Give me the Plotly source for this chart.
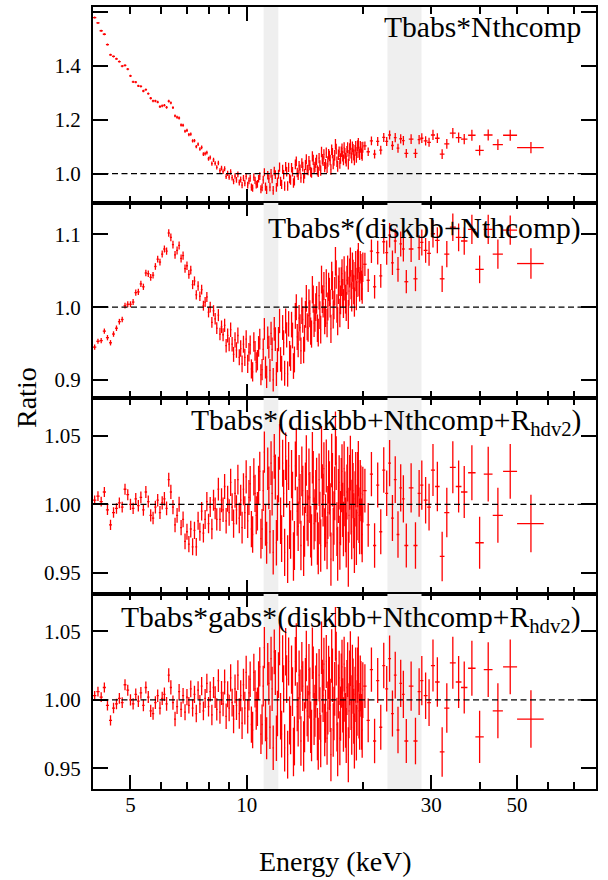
import math
import plotly.graph_objects as go

# ---------------- data ----------------
ENERGY_A = [4.04, 4.12, 4.20, 4.28, 4.36, 4.44, 4.52, 4.60, 4.68, 4.76, 4.84, 4.92,
            5.00, 5.08, 5.16, 5.24, 5.32, 5.40, 5.48, 5.56, 5.64, 5.72, 5.80, 5.88, 5.96,
            6.04, 6.12, 6.20, 6.28, 6.36, 6.44, 6.52, 6.60, 6.68, 6.76, 6.84, 6.92,
            7.00, 7.08, 7.16, 7.24, 7.32, 7.40, 7.48, 7.56, 7.64, 7.72, 7.80, 7.88, 7.96,
            8.04, 8.12, 8.20, 8.28, 8.36, 8.44, 8.52, 8.60, 8.68, 8.76, 8.84, 8.92,
            9.00, 9.08, 9.16, 9.24, 9.32, 9.40, 9.48, 9.56, 9.64, 9.72, 9.80, 9.88, 9.96]
ENERGY_B = [10.05, 10.20, 10.35, 10.50, 10.65, 10.80, 10.95, 11.10, 11.25, 11.40, 11.55, 11.70, 11.85,
            12.00, 12.15, 12.30, 12.45, 12.60, 12.75, 12.90, 13.05, 13.20, 13.35, 13.50, 13.65, 13.80,
            13.95, 14.10, 14.25, 14.40, 14.55, 14.70, 14.85,
            15.00, 15.15, 15.30, 15.45, 15.60, 15.75, 15.90, 16.05, 16.20, 16.35, 16.50, 16.65, 16.80,
            16.95, 17.10, 17.25, 17.40, 17.55, 17.70, 17.85, 18.00, 18.15, 18.30, 18.45, 18.60, 18.75,
            18.90, 19.05, 19.20, 19.35, 19.50, 19.65, 19.80, 19.95]
ENERGY_B2 = [10.125, 10.275, 10.425, 10.575, 10.725, 10.875, 11.025, 11.175, 11.325, 11.475, 11.625, 11.775, 11.925,
             12.075, 12.225, 12.375, 12.525, 12.675, 12.825, 12.975, 13.125, 13.275, 13.425, 13.575, 13.725,
             13.875, 14.025, 14.175, 14.325, 14.475, 14.625, 14.775, 14.925,
             15.075, 15.225, 15.375, 15.525, 15.675, 15.825, 15.975, 16.125, 16.275, 16.425, 16.575, 16.725,
             16.875, 17.025, 17.175, 17.325, 17.475, 17.625, 17.775, 17.925, 18.075, 18.225, 18.375, 18.525,
             18.675, 18.825, 18.975, 19.125, 19.275, 19.425, 19.575, 19.725, 19.875]
ENERGY_C = [20.2, 20.6, 21.0, 21.4, 21.8, 22.2, 22.6, 23.0, 23.4, 23.8, 24.2, 24.6, 25.0, 25.4]
ENERGY_D = [25.85, 26.6, 27.3, 27.9, 28.35, 29.0, 29.6, 30.3, 31.1, 32.0, 32.9, 34.1, 35.3, 36.5,
            38.2, 40.0, 42.1, 44.6, 48.0, 54.3]

XERR_A = [0.04, 0.04, 0.04, 0.04, 0.04, 0.04, 0.04, 0.04, 0.04, 0.04, 0.04, 0.04,
          0.04, 0.04, 0.04, 0.04, 0.04, 0.04, 0.04, 0.04, 0.04, 0.04, 0.04, 0.04, 0.04,
          0.04, 0.04, 0.04, 0.04, 0.04, 0.04, 0.04, 0.04, 0.04, 0.04, 0.04, 0.04,
          0.04, 0.04, 0.04, 0.04, 0.04, 0.04, 0.04, 0.04, 0.04, 0.04, 0.04, 0.04, 0.04,
          0.04, 0.04, 0.04, 0.04, 0.04, 0.04, 0.04, 0.04, 0.04, 0.04, 0.04, 0.04,
          0.04, 0.04, 0.04, 0.04, 0.04, 0.04, 0.04, 0.04, 0.04, 0.04, 0.04, 0.04, 0.04]
XERR_B = [0.0375, 0.0375, 0.0375, 0.0375, 0.0375, 0.0375, 0.0375, 0.0375, 0.0375, 0.0375, 0.0375, 0.0375, 0.0375,
          0.0375, 0.0375, 0.0375, 0.0375, 0.0375, 0.0375, 0.0375, 0.0375, 0.0375, 0.0375, 0.0375, 0.0375, 0.0375,
          0.0375, 0.0375, 0.0375, 0.0375, 0.0375, 0.0375, 0.0375,
          0.0375, 0.0375, 0.0375, 0.0375, 0.0375, 0.0375, 0.0375, 0.0375, 0.0375, 0.0375, 0.0375, 0.0375, 0.0375,
          0.0375, 0.0375, 0.0375, 0.0375, 0.0375, 0.0375, 0.0375, 0.0375, 0.0375, 0.0375, 0.0375, 0.0375, 0.0375,
          0.0375, 0.0375, 0.0375, 0.0375, 0.0375, 0.0375, 0.0375, 0.0375]
XERR_B2 = [0.0375, 0.0375, 0.0375, 0.0375, 0.0375, 0.0375, 0.0375, 0.0375, 0.0375, 0.0375, 0.0375, 0.0375, 0.0375,
           0.0375, 0.0375, 0.0375, 0.0375, 0.0375, 0.0375, 0.0375, 0.0375, 0.0375, 0.0375, 0.0375, 0.0375,
           0.0375, 0.0375, 0.0375, 0.0375, 0.0375, 0.0375, 0.0375, 0.0375,
           0.0375, 0.0375, 0.0375, 0.0375, 0.0375, 0.0375, 0.0375, 0.0375, 0.0375, 0.0375, 0.0375, 0.0375,
           0.0375, 0.0375, 0.0375, 0.0375, 0.0375, 0.0375, 0.0375, 0.0375, 0.0375, 0.0375, 0.0375, 0.0375,
           0.0375, 0.0375, 0.0375, 0.0375, 0.0375, 0.0375, 0.0375, 0.0375, 0.0375]
XERR_C = [0.2, 0.2, 0.2, 0.2, 0.2, 0.2, 0.2, 0.2, 0.2, 0.2, 0.2, 0.2, 0.2, 0.2]
XERR_D = [0.3, 0.37, 0.33, 0.25, 0.27, 0.33, 0.33, 0.37, 0.42, 0.45, 0.5, 0.6, 0.6, 0.7,
          0.85, 1.0, 1.1, 1.35, 2.0, 4.3]

YERR_A = [0.0035, 0.0035, 0.0036, 0.0036, 0.0037, 0.0037, 0.0038, 0.0038, 0.0039, 0.0039, 0.0040, 0.0040,
          0.0041, 0.0041, 0.0042, 0.0042, 0.0043, 0.0043, 0.0044, 0.0044, 0.0045, 0.0045, 0.0046, 0.0046, 0.0047,
          0.0048, 0.0049, 0.0050, 0.0051, 0.0052, 0.0052, 0.0053, 0.0054, 0.0055, 0.0056, 0.0057, 0.0058,
          0.0059, 0.0060, 0.0061, 0.0062, 0.0063, 0.0064, 0.0065, 0.0066, 0.0067, 0.0068, 0.0069, 0.0070, 0.0071,
          0.0073, 0.0075, 0.0077, 0.0079, 0.0081, 0.0083, 0.0085, 0.0087, 0.0089, 0.0091, 0.0093, 0.0095,
          0.0097, 0.0099, 0.0101, 0.0103, 0.0105, 0.0107, 0.0109, 0.0111, 0.0113, 0.0115, 0.0117, 0.0119, 0.0121]
YERR_B = [0.0125, 0.0130, 0.0133, 0.0136, 0.0140, 0.0143, 0.0146, 0.0150, 0.0153, 0.0156, 0.0160, 0.0162, 0.0164,
          0.0166, 0.0168, 0.0170, 0.0172, 0.0173, 0.0174, 0.0175, 0.0176, 0.0177, 0.0178, 0.0179, 0.0180, 0.0181,
          0.0182, 0.0183, 0.0184, 0.0185, 0.0186, 0.0187, 0.0188,
          0.0189, 0.0190, 0.0190, 0.0191, 0.0191, 0.0192, 0.0192, 0.0193, 0.0193, 0.0194, 0.0194, 0.0195, 0.0195,
          0.0196, 0.0196, 0.0197, 0.0197, 0.0198, 0.0198, 0.0199, 0.0199, 0.0200, 0.0200, 0.0200, 0.0200, 0.0201,
          0.0201, 0.0201, 0.0202, 0.0202, 0.0202, 0.0203, 0.0203, 0.0203]
YERR_B2 = [0.0128, 0.0132, 0.0135, 0.0138, 0.0142, 0.0145, 0.0148, 0.0152, 0.0155, 0.0158, 0.0161, 0.0163, 0.0165,
           0.0167, 0.0169, 0.0171, 0.0172, 0.0174, 0.0175, 0.0176, 0.0177, 0.0178, 0.0179, 0.0180, 0.0181,
           0.0182, 0.0183, 0.0184, 0.0185, 0.0186, 0.0187, 0.0188, 0.0189,
           0.0190, 0.0190, 0.0191, 0.0191, 0.0192, 0.0192, 0.0193, 0.0193, 0.0194, 0.0194, 0.0195, 0.0195,
           0.0196, 0.0196, 0.0197, 0.0197, 0.0198, 0.0198, 0.0199, 0.0199, 0.0200, 0.0200, 0.0200, 0.0200,
           0.0201, 0.0201, 0.0201, 0.0202, 0.0202, 0.0202, 0.0203, 0.0203, 0.0203]
YERR_C = [0.0160, 0.0160, 0.0162, 0.0162, 0.0164, 0.0164, 0.0166, 0.0166, 0.0168, 0.0168, 0.0170, 0.0170,
          0.0172, 0.0172]
YERR_D = [0.016, 0.018, 0.017, 0.017, 0.018, 0.017, 0.017, 0.019, 0.018, 0.018, 0.018, 0.019, 0.019, 0.019,
          0.020, 0.019, 0.020, 0.020, 0.020, 0.021]

# Panel 1: Tbabs*Nthcomp
RATIO1_A = [1.578, 1.558, 1.529, 1.516, 1.478, 1.440, 1.434, 1.425, 1.415, 1.398, 1.401, 1.387,
            1.362, 1.340, 1.339, 1.325, 1.323, 1.306, 1.311, 1.296, 1.279, 1.269, 1.269, 1.265, 1.248,
            1.251, 1.253, 1.245, 1.268, 1.262, 1.244, 1.214, 1.209, 1.206, 1.180, 1.179, 1.157,
            1.160, 1.144, 1.146, 1.121, 1.122, 1.100, 1.109, 1.091, 1.097, 1.072, 1.074, 1.078, 1.055,
            1.060, 1.037, 1.051, 1.038, 1.023, 1.039, 1.011, 1.020, 1.007, 1.018, 0.989, 1.001,
            0.987, 1.006, 0.985, 0.971, 0.991, 0.977, 0.997, 0.967, 0.978, 0.957, 0.983, 0.965, 0.990]
RATIO1_B = [0.957, 0.983, 0.946, 0.975, 0.962, 0.991, 0.949, 1.005, 0.940, 0.981, 1.001, 0.938, 0.996,
            0.969, 1.024, 0.960, 0.996, 1.026, 0.954, 0.982, 1.022, 0.965, 1.034, 1.004, 1.029, 0.984,
            1.026, 0.999, 1.053, 1.012, 1.031, 1.003, 1.051,
            1.025, 1.051, 1.006, 1.030, 1.080, 1.047, 1.024, 1.077, 1.045, 1.065, 1.015, 1.075, 1.049,
            1.109, 1.044, 1.070, 1.038, 1.081, 1.065, 1.096, 1.057, 1.082, 1.035, 1.092, 1.076, 1.099,
            1.069, 1.086, 1.060, 1.103, 1.079, 1.100, 1.074, 1.098]
RATIO1_B2 = [0.973, 0.950, 0.987, 0.959, 0.981, 0.942, 0.977, 0.952, 0.994, 0.950, 0.980, 1.009, 0.949,
             0.998, 0.971, 1.016, 0.954, 1.007, 1.023, 0.976, 1.007, 0.974, 1.045, 0.994, 1.016,
             1.039, 0.983, 1.032, 1.014, 1.047, 1.007, 1.064, 1.018,
             1.040, 1.012, 1.057, 1.011, 1.053, 1.071, 1.035, 1.022, 1.072, 1.050, 1.088, 1.036,
             1.068, 1.091, 1.027, 1.081, 1.056, 1.092, 1.051, 1.075, 1.046, 1.096, 1.067, 1.107,
             1.058, 1.090, 1.051, 1.101, 1.078, 1.112, 1.071, 1.097, 1.068]
RATIO1_C = [1.103, 1.081, 1.121, 1.072, 1.119, 1.087, 1.134, 1.119, 1.143, 1.104, 1.133, 1.094, 1.129, 1.122]
RATIO1_D = [1.075, 1.128, 1.075, 1.126, 1.131, 1.121, 1.116, 1.143, 1.131, 1.072, 1.110, 1.150, 1.133, 1.128,
            1.142, 1.086, 1.143, 1.107, 1.142, 1.096]

# Panel 2: Tbabs*(diskbb+Nthcomp)
RATIO2_A = [0.945, 0.953, 0.954, 0.967, 0.958, 0.951, 0.963, 0.971, 0.980, 0.983, 1.002, 1.004,
            1.004, 1.007, 1.020, 1.021, 1.032, 1.028, 1.047, 1.046, 1.041, 1.044, 1.056, 1.066, 1.062,
            1.073, 1.080, 1.077, 1.102, 1.096, 1.086, 1.072, 1.078, 1.085, 1.067, 1.071, 1.053,
            1.057, 1.045, 1.051, 1.031, 1.036, 1.017, 1.029, 1.015, 1.024, 1.002, 1.007, 1.014, 0.993,
            1.000, 0.979, 0.995, 0.984, 0.971, 0.989, 0.963, 0.973, 0.962, 0.975, 0.947, 0.961,
            0.949, 0.969, 0.949, 0.935, 0.955, 0.941, 0.961, 0.931, 0.943, 0.922, 0.949, 0.931, 0.956]
RATIO2_B = [0.922, 0.948, 0.911, 0.940, 0.927, 0.956, 0.914, 0.970, 0.904, 0.945, 0.964, 0.900, 0.956,
            0.927, 0.981, 0.916, 0.951, 0.981, 0.908, 0.936, 0.976, 0.919, 0.988, 0.959, 0.985, 0.940,
            0.983, 0.957, 1.012, 0.971, 0.991, 0.963, 1.011,
            0.985, 1.010, 0.965, 0.989, 1.038, 1.005, 0.982, 1.033, 1.001, 1.021, 0.970, 1.030, 1.003,
            1.063, 0.998, 1.024, 0.992, 1.035, 1.019, 1.050, 1.011, 1.037, 0.990, 1.047, 1.031, 1.055,
            1.024, 1.042, 1.016, 1.059, 1.035, 1.057, 1.030, 1.055]
RATIO2_B2 = [0.938, 0.915, 0.952, 0.924, 0.946, 0.907, 0.942, 0.917, 0.958, 0.913, 0.942, 0.970, 0.908,
             0.956, 0.928, 0.972, 0.909, 0.962, 0.977, 0.930, 0.961, 0.928, 1.000, 0.949, 0.972,
             0.995, 0.941, 0.990, 0.973, 1.006, 0.967, 1.024, 0.978,
             1.000, 0.971, 1.016, 0.969, 1.011, 1.029, 0.992, 0.978, 1.028, 1.005, 1.043, 0.990,
             1.022, 1.045, 0.981, 1.035, 1.010, 1.046, 1.005, 1.029, 1.001, 1.051, 1.022, 1.062,
             1.014, 1.045, 1.007, 1.057, 1.034, 1.068, 1.028, 1.053, 1.025]
RATIO2_C = [1.059, 1.037, 1.077, 1.028, 1.075, 1.043, 1.090, 1.075, 1.099, 1.061, 1.091, 1.052, 1.087, 1.080]
RATIO2_D = [1.035, 1.080, 1.039, 1.082, 1.089, 1.078, 1.074, 1.101, 1.092, 1.039, 1.073, 1.110, 1.096, 1.091,
            1.107, 1.052, 1.107, 1.073, 1.106, 1.060]

# Panel 3: Tbabs*(diskbb+Nthcomp+Rhdv2)
RATIO3_A = [1.003, 1.006, 1.002, 1.009, 0.996, 0.985, 0.994, 0.997, 1.001, 0.998, 1.011, 1.007,
            1.000, 0.997, 1.004, 0.999, 1.005, 0.996, 1.009, 1.002, 0.992, 0.990, 0.998, 1.003, 0.994,
            1.001, 1.004, 0.997, 1.018, 1.009, 0.998, 0.985, 0.992, 1.000, 0.983, 0.989, 0.973,
            0.980, 0.971, 0.982, 0.969, 0.981, 0.969, 0.988, 0.980, 0.995, 0.979, 0.989, 1.002, 0.986,
            0.998, 0.982, 1.003, 0.997, 0.989, 1.011, 0.989, 1.003, 0.996, 1.013, 0.988, 1.004,
            0.994, 1.016, 0.998, 0.986, 1.008, 0.996, 1.018, 0.990, 1.003, 0.983, 1.011, 0.994, 1.020]
RATIO3_B = [0.988, 1.015, 0.978, 1.008, 0.995, 1.024, 0.982, 1.038, 0.972, 1.012, 1.030, 0.965, 1.020,
            0.990, 1.042, 0.975, 1.008, 1.035, 0.960, 0.985, 1.022, 0.962, 1.028, 0.995, 1.018, 0.970,
            1.010, 0.980, 1.032, 0.988, 1.005, 0.974, 1.020,
            0.992, 1.015, 0.968, 0.990, 1.038, 1.003, 0.978, 1.028, 0.994, 1.012, 0.960, 1.018, 0.990,
            1.048, 0.982, 1.006, 0.972, 1.014, 0.996, 1.026, 0.985, 1.009, 0.960, 1.016, 0.998, 1.020,
            0.988, 1.004, 0.976, 1.018, 0.992, 1.012, 0.984, 1.007]
RATIO3_B2 = [1.005, 0.982, 1.020, 0.992, 1.014, 0.975, 1.010, 0.985, 1.026, 0.980, 1.008, 1.035, 0.972,
             1.018, 0.988, 1.030, 0.965, 1.015, 1.028, 0.978, 1.006, 0.970, 1.038, 0.984, 1.004,
             1.024, 0.966, 1.012, 0.992, 1.022, 0.980, 1.034, 0.986,
             1.006, 0.975, 1.018, 0.970, 1.010, 1.026, 0.988, 0.972, 1.020, 0.996, 1.032, 0.978,
             1.008, 1.030, 0.964, 1.016, 0.990, 1.024, 0.982, 1.004, 0.974, 1.022, 0.992, 1.030,
             0.980, 1.010, 0.970, 1.018, 0.994, 1.026, 0.984, 1.008, 0.978]
RATIO3_C = [1.010, 0.985, 1.022, 0.970, 1.014, 0.980, 1.025, 1.008, 1.030, 0.990, 1.018, 0.978, 1.012, 1.004]
RATIO3_D = [0.970, 1.012, 0.970, 1.008, 1.014, 1.003, 0.998, 1.025, 1.013, 0.962, 0.994, 1.027, 1.013, 1.009,
            1.023, 0.972, 1.022, 0.992, 1.024, 0.986]

# Panel 4: Tbabs*gabs*(diskbb+Nthcomp+Rhdv2)
RATIO4_A = [1.003, 1.006, 1.002, 1.009, 0.996, 0.985, 0.994, 0.997, 1.001, 0.998, 1.011, 1.007,
            1.000, 0.997, 1.004, 0.999, 1.005, 0.996, 1.009, 1.002, 0.992, 0.990, 0.998, 1.003, 0.994,
            1.001, 1.004, 0.997, 1.018, 1.009, 0.998, 0.986, 0.995, 1.006, 0.993, 1.003, 0.991,
            1.002, 0.996, 1.008, 0.994, 1.004, 0.990, 1.007, 0.997, 1.010, 0.992, 1.001, 1.012, 0.995,
            1.006, 0.989, 1.009, 1.002, 0.993, 1.014, 0.991, 1.005, 0.997, 1.013, 0.988, 1.004,
            0.994, 1.016, 0.998, 0.986, 1.008, 0.996, 1.018, 0.990, 1.003, 0.983, 1.011, 0.994, 1.020]
RATIO4_B = [0.988, 1.015, 0.978, 1.008, 0.995, 1.024, 0.982, 1.038, 0.972, 1.012, 1.030, 0.965, 1.020,
            0.990, 1.042, 0.975, 1.008, 1.035, 0.960, 0.985, 1.022, 0.962, 1.028, 0.995, 1.018, 0.970,
            1.010, 0.980, 1.032, 0.988, 1.005, 0.974, 1.020,
            0.992, 1.015, 0.968, 0.990, 1.038, 1.003, 0.978, 1.028, 0.994, 1.012, 0.960, 1.018, 0.990,
            1.048, 0.982, 1.006, 0.972, 1.014, 0.996, 1.026, 0.985, 1.009, 0.960, 1.016, 0.998, 1.020,
            0.988, 1.004, 0.976, 1.018, 0.992, 1.012, 0.984, 1.007]
RATIO4_B2 = [1.005, 0.982, 1.020, 0.992, 1.014, 0.975, 1.010, 0.985, 1.026, 0.980, 1.008, 1.035, 0.972,
             1.018, 0.988, 1.030, 0.965, 1.015, 1.028, 0.978, 1.006, 0.970, 1.038, 0.984, 1.004,
             1.024, 0.966, 1.012, 0.992, 1.022, 0.980, 1.034, 0.986,
             1.006, 0.975, 1.018, 0.970, 1.010, 1.026, 0.988, 0.972, 1.020, 0.996, 1.032, 0.978,
             1.008, 1.030, 0.964, 1.016, 0.990, 1.024, 0.982, 1.004, 0.974, 1.022, 0.992, 1.030,
             0.980, 1.010, 0.970, 1.018, 0.994, 1.026, 0.984, 1.008, 0.978]
RATIO4_C = [1.010, 0.985, 1.022, 0.970, 1.014, 0.980, 1.025, 1.008, 1.030, 0.990, 1.018, 0.978, 1.012, 1.004]
RATIO4_D = [0.970, 1.010, 0.970, 1.006, 1.014, 1.003, 0.998, 1.025, 1.013, 0.962, 0.994, 1.027, 1.013, 1.009,
            1.023, 0.973, 1.022, 0.992, 1.024, 0.986]

MODEL_LABELS = ["Tbabs*Nthcomp",
                "Tbabs*(diskbb+Nthcomp)",
                "Tbabs*(diskbb+Nthcomp+R<sub>hdv2</sub>)",
                "Tbabs*gabs*(diskbb+Nthcomp+R<sub>hdv2</sub>)"]
Y_RANGES = [[0.893, 1.617], [0.875, 1.144], [0.935, 1.0775], [0.935, 1.0775]]
Y_TICKVALS = [[1.0, 1.2, 1.4, 1.6], [0.9, 1.0, 1.1], [0.95, 1.00, 1.05], [0.95, 1.00, 1.05]]
Y_TICKTEXT = [["1.0", "1.2", "1.4", "1.6"], ["0.9", "1.0", "1.1"],
              ["0.95", "1.00", "1.05"], ["0.95", "1.00", "1.05"]]
X_RANGE = [4.0, 80.0]
X_TICKVALS = [5, 10, 30, 50]
X_TICKTEXT = ["5", "10", "30", "50"]
X_MINOR_BOTTOM = [6, 7, 8, 9, 20, 40, 60, 70]
X_MAJOR_INNER = [10]
X_MINOR_INNER = [5, 6, 7, 8, 9, 20, 30, 40, 50, 60, 70]
BANDS = [(11.05, 12.06), (23.1, 28.3)]
REFERENCE_LEVEL = 1.0

ENERGY = ENERGY_A + ENERGY_B + ENERGY_B2 + ENERGY_C + ENERGY_D
XERR = XERR_A + XERR_B + XERR_B2 + XERR_C + XERR_D
YERR = YERR_A + YERR_B + YERR_B2 + YERR_C + YERR_D
RATIOS = [RATIO1_A + RATIO1_B + RATIO1_B2 + RATIO1_C + RATIO1_D,
          RATIO2_A + RATIO2_B + RATIO2_B2 + RATIO2_C + RATIO2_D,
          RATIO3_A + RATIO3_B + RATIO3_B2 + RATIO3_C + RATIO3_D,
          RATIO4_A + RATIO4_B + RATIO4_B2 + RATIO4_C + RATIO4_D]
for arr in [XERR, YERR] + RATIOS:
    assert len(arr) == len(ENERGY), (len(arr), len(ENERGY))

# ---------------- figure ----------------
FONT = "Liberation Serif, DejaVu Serif, serif"
W, H = 608, 880
ML, MR, MT, MB = 93, 12, 5, 91
PLOT_H = H - MT - MB
SUFFIX = ["", "2", "3", "4"]
RED = "#ff0000"

fig = go.Figure()
for i in range(4):
    s = SUFFIX[i]
    lo, hi = Y_RANGES[i]
    for b0, b1 in BANDS:
        fig.add_trace(go.Scatter(x=[b0, b0, b1, b1, b0], y=[lo, hi, hi, lo, lo],
                                 fill="toself", fillcolor="#efefef", mode="lines",
                                 line=dict(width=0, color="#efefef"), hoverinfo="skip",
                                 showlegend=False, xaxis="x" + s, yaxis="y" + s))
    fig.add_trace(go.Scatter(x=ENERGY, y=RATIOS[i], mode="markers",
                             marker=dict(size=1, color="rgba(0,0,0,0)"),
                             error_y=dict(type="data", array=YERR, color=RED, thickness=1.3, width=0),
                             error_x=dict(type="data", array=XERR, color=RED, thickness=1.3, width=0),
                             showlegend=False, xaxis="x" + s, yaxis="y" + s))
    fig.add_trace(go.Scatter(x=X_RANGE, y=[REFERENCE_LEVEL, REFERENCE_LEVEL], mode="lines",
                             line=dict(color="black", width=1.3, dash="6px,3.5px"),
                             showlegend=False, hoverinfo="skip", xaxis="x" + s, yaxis="y" + s))
# helper trace for the top axis of the last panel
fig.add_trace(go.Scatter(x=[10], y=[REFERENCE_LEVEL], mode="markers", marker=dict(opacity=0),
                         showlegend=False, hoverinfo="skip", xaxis="x5", yaxis="y4"))

xr = [math.log10(X_RANGE[0]), math.log10(X_RANGE[1])]
tickfont = dict(family=FONT, size=21, color="black")
common_x = dict(type="log", range=xr, showline=True, linecolor="black", linewidth=1.6,
                ticks="inside", tickcolor="black", tickwidth=1.5, showgrid=False, zeroline=False)
minor_inner = dict(tickmode="array", tickvals=X_MINOR_INNER, ticks="inside", ticklen=7,
                   tickwidth=1.5, tickcolor="black", showgrid=False)

layout = dict(width=W, height=H, margin=dict(l=ML, r=MR, t=MT, b=MB),
              paper_bgcolor="white", plot_bgcolor="white", showlegend=False,
              font=dict(family=FONT, color="black"))
for i in range(4):
    s = SUFFIX[i]
    top = 1 - i / 4
    bot = 1 - (i + 1) / 4
    xa = dict(common_x, anchor="y" + s)
    if i < 3:
        xa.update(mirror="ticks", tickmode="array", tickvals=X_MAJOR_INNER, ticklen=14,
                  showticklabels=False, minor=minor_inner)
    else:
        xa.update(mirror=False, linewidth=2, tickmode="array", tickvals=X_TICKVALS, ticktext=X_TICKTEXT,
                  ticklen=14, tickfont=tickfont, ticklabelstandoff=-4,
                  minor=dict(tickmode="array", tickvals=X_MINOR_BOTTOM, ticks="inside", ticklen=7,
                             tickwidth=1.5, tickcolor="black", showgrid=False))
    if i == 0:
        xa["linewidth"] = 2
    if i > 0:
        xa["matches"] = "x"
    layout["xaxis" + s] = xa
    layout["yaxis" + s] = dict(domain=[bot, top], range=Y_RANGES[i], anchor="x" + s,
                               showline=True, linecolor="black", linewidth=2, mirror="ticks",
                               ticks="inside", ticklen=15, tickwidth=1.5, tickcolor="black",
                               tickmode="array", tickvals=Y_TICKVALS[i], ticktext=Y_TICKTEXT[i],
                               tickfont=tickfont, ticklabelstandoff=6,
                               showgrid=False, zeroline=False)
layout["xaxis5"] = dict(common_x, overlaying="x4", anchor="y4", side="top", tickmode="array",
                        tickvals=X_MAJOR_INNER, ticklen=14, showticklabels=False, minor=minor_inner)

ann_y = [0.990, 0.964, 0.980, 0.970]
annotations = []
for i in range(4):
    s = SUFFIX[i]
    annotations.append(dict(text=MODEL_LABELS[i], xref="x" + s + " domain", yref="y" + s + " domain",
                            x=0.974, y=ann_y[i], xanchor="right", yanchor="top", showarrow=False,
                            font=dict(family=FONT, size=29.6, color="black")))
annotations.append(dict(text="Ratio", xref="paper", yref="paper", x=(26 - ML) / (W - ML - MR), y=0.5,
                        textangle=-90, xanchor="center", yanchor="middle", showarrow=False,
                        font=dict(family=FONT, size=28, color="black")))
annotations.append(dict(text="Energy (keV)", xref="paper", yref="paper",
                        x=(335 - ML) / (W - ML - MR), y=(H - MB - 862) / PLOT_H,
                        xanchor="center", yanchor="middle", showarrow=False,
                        font=dict(family=FONT, size=28, color="black")))
layout["annotations"] = annotations
fig.update_layout(**layout)

fig.write_html("out.html", config={"displayModeBar": False},
               post_script="document.body.style.margin='0px';")
